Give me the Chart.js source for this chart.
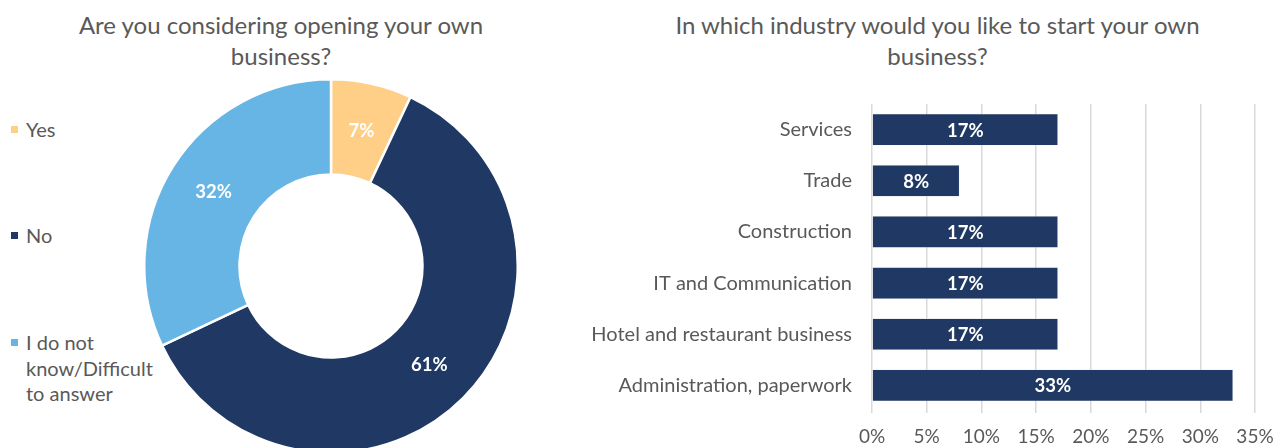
<!DOCTYPE html>
<html>
<head>
<meta charset="utf-8">
<script src="https://cdn.jsdelivr.net/npm/chart.js@4/dist/chart.umd.min.js"></script>
<style>
    html, body { margin:0; padding:0; background:#fff; width:1274px; height:448px; overflow:hidden; font-family:Lato, "Open Sans", sans-serif; color:#595959; }
    .title { position:absolute; text-align:center; font-size:24px; line-height:31px; color:#595959; }
    .legend { position:absolute; left:11px; font-size:20px; line-height:25.5px; color:#595959; }
    .legend .sw { position:absolute; left:0; top:9px; width:7px; height:7px; }
    .legend .tx { position:absolute; left:15px; top:0; width:132px; }
</style>
</head>
<body>
<!-- left: doughnut -->
<div class="title" style="left:41px; top:9px; width:480px;">Are you considering opening your own business?</div>
<div id="pie-legend"></div>
<div style="position:absolute; left:143px; top:78px; width:376px; height:376px;">
    <canvas id="chart-pie"></canvas>
</div>

<!-- right: bars -->
<div class="title" style="left:667px; top:9px; width:541px;">In which industry would you like to start your own business?</div>
<div style="position:absolute; left:560px; top:0; width:714px; height:448px;">
    <canvas id="chart-bars"></canvas>
</div>

<script>
// --- DATA ---
const pieLabels = ['Yes', 'No', 'I do not know/Difficult to answer'];
const pieValues = [7, 61, 32];
const pieColors = ['#FFCF87', '#203864', '#66B5E4'];

const barLabels = ['Services', 'Trade', 'Construction', 'IT and Communication', 'Hotel and restaurant business', 'Administration, paperwork'];
const barValues = [17, 8, 17, 17, 17, 33];
const barTicks = [0, 5, 10, 15, 20, 25, 30, 35];

const FONT = 'Lato, "Open Sans", sans-serif';

// legend (html, since the last label wraps)
const legendTops = [117, 223, 330];
document.getElementById('pie-legend').innerHTML = pieLabels.map((l, i) => `
    <div class="legend" style="top:${legendTops[i]}px;">
        <div class="sw" style="background:${pieColors[i]};"></div>
        <div class="tx">${l}</div>
    </div>`).join('');

// simple value labels drawn on each element
const valueLabels = {
    id: 'valueLabels',
    afterDatasetsDraw(chart) {
        const ctx = chart.ctx;
        const meta = chart.getDatasetMeta(0);
        const data = chart.data.datasets[0].data;
        ctx.save();
        ctx.fillStyle = '#ffffff';
        ctx.font = `bold 18.5px ${FONT}`;
        ctx.textAlign = 'center';
        ctx.textBaseline = 'middle';
        meta.data.forEach((el, i) => {
            let x, y;
            if (chart.config.type === 'bar') {
                x = (el.x + el.base) / 2;
                y = el.y;
            } else {
                ({ x, y } = el.tooltipPosition());
            }
            ctx.fillText(data[i] + '%', x, y + 1);
        });
        ctx.restore();
    }
};

new Chart(document.getElementById('chart-pie'), {
    type: 'doughnut',
    data: {
        labels: pieLabels,
        datasets: [{
            data: pieValues,
            backgroundColor: pieColors,
            borderColor: '#ffffff',
            borderWidth: 2.5
        }]
    },
    options: {
        responsive: true,
        maintainAspectRatio: false,
        animation: false,
        cutout: '49%',
        layout: { padding: 0 },
        plugins: { legend: { display: false }, tooltip: { enabled: false } }
    },
    plugins: [valueLabels]
});

new Chart(document.getElementById('chart-bars'), {
    type: 'bar',
    data: {
        labels: barLabels,
        datasets: [{
            data: barValues,
            backgroundColor: '#203864',
            borderColor: '#dde2ea',
            borderWidth: 0.6,
            barPercentage: 0.84,
            categoryPercentage: 0.74
        }]
    },
    options: {
        indexAxis: 'y',
        responsive: true,
        maintainAspectRatio: false,
        animation: false,
        layout: { padding: { top: 104, right: 0, left: 0, bottom: 0 } },
        plugins: { legend: { display: false }, tooltip: { enabled: false } },
        scales: {
            x: {
                min: 0,
                max: 35,
                afterBuildTicks: (scale) => { scale.ticks = barTicks.map(v => ({ value: v })); },
                afterFit: (scale) => { scale.height = 37; scale.paddingRight = 19; },
                border: { display: false },
                grid: { color: '#d9d9d9', lineWidth: 1.5, tickLength: 2, drawTicks: true },
                ticks: {
                    color: '#595959',
                    font: { family: FONT, size: 19 },
                    padding: 12,
                    maxRotation: 0,
                    callback: (v) => v + '%'
                }
            },
            y: {
                afterFit: (scale) => { scale.width = 312; },
                border: { display: false },
                grid: { display: false },
                ticks: {
                    color: '#595959',
                    font: { family: FONT, size: 20 },
                    padding: 12
                }
            }
        }
    },
    plugins: [valueLabels]
});
</script>
</body>
</html>
